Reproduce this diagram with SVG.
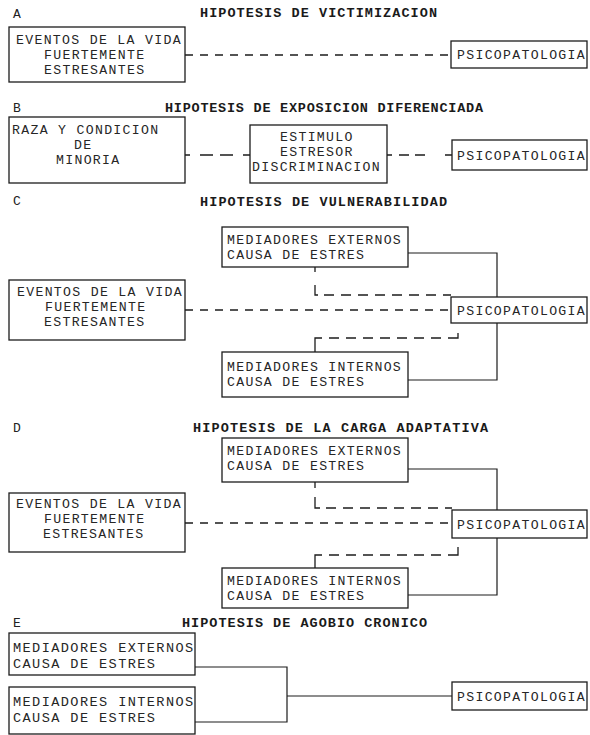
<svg xmlns="http://www.w3.org/2000/svg" width="590" height="735" viewBox="0 0 590 735">
<style>
.box{fill:none;stroke:#1c1c1c;stroke-width:1.3}
.t{font-family:"Liberation Mono","Courier New",monospace;font-size:13.2px;letter-spacing:1.3px;fill:#262626}
.te{font-family:"Liberation Mono","Courier New",monospace;font-size:13.6px;letter-spacing:1.4px;fill:#262626}
.h{font-family:"Liberation Mono","Courier New",monospace;font-size:13.5px;font-weight:bold;fill:#1a1a1a}
.lbl{font-family:"Liberation Mono","Courier New",monospace;font-size:13px;fill:#222}
.solid{fill:none;stroke:#1c1c1c;stroke-width:1.2}
.dash{fill:none;stroke:#1c1c1c;stroke-width:1.3;stroke-dasharray:8 7}
.dash2{fill:none;stroke:#1c1c1c;stroke-width:1.3}
</style>
<rect width="590" height="735" fill="#fff"/>

<g id="titles">
<text class="lbl" x="13" y="18">A</text>
<text class="h" x="200" y="17" textLength="237">HIPOTESIS DE VICTIMIZACION</text>
<text class="lbl" x="13" y="112">B</text>
<text class="h" x="165" y="112" textLength="318">HIPOTESIS DE EXPOSICION DIFERENCIADA</text>
<text class="lbl" x="13" y="205">C</text>
<text class="h" x="200" y="206" textLength="247">HIPOTESIS DE VULNERABILIDAD</text>
<text class="lbl" x="13" y="432">D</text>
<text class="h" x="193" y="432" textLength="295">HIPOTESIS DE LA CARGA ADAPTATIVA</text>
<text class="lbl" x="13" y="627">E</text>
<text class="h" x="182" y="627" textLength="245">HIPOTESIS DE AGOBIO CRONICO</text>
</g>

<g id="connectors">
<path class="dash" d="M185,55 H451"/>
<path class="dash2" d="M185,155 H250" stroke-dasharray="5 10 13 7 13 10 7"/>
<path class="dash2" d="M387,155 H452" stroke-dasharray="5 7 10 6 10 20 7"/>
<path class="solid" d="M408,253 H497 V297"/>
<path class="solid" d="M408,380 H497 V323"/>
<path class="dash" d="M185,310 H451"/>
<path class="dash2" d="M315,267 V295 H451" stroke-dasharray="5 13 13 6 10 7 10 7 10 7 10 7 10 7 10 7 10 7 10 7 10 7"/>
<path class="dash2" d="M315,352 V338 H458 V333" stroke-dasharray="21 7 10 7 10 7 10 7 10 7 10 7 10 7 10 7 15 5"/>
<path class="solid" d="M408,469 H497 V510"/>
<path class="solid" d="M408,595 H497 V538"/>
<path class="dash" d="M185,523 H452"/>
<path class="dash2" d="M315,482 V508 H452" stroke-dasharray="6 9 16 6 10 7 10 7 10 7 10 7 10 7 10 7 10 7 10 7 10 7"/>
<path class="dash2" d="M315,568 V555 H458 V547" stroke-dasharray="20 7 10 7 10 7 10 7 10 7 10 7 10 7 10 7 18 4"/>
<path class="solid" d="M195,667 H287 V722 H195"/>
<path class="solid" d="M287,696 H452"/>
</g>

<g id="a-eventos">
<rect class="box" x="9" y="27" width="176" height="55"/>
<text class="t" x="16" y="44">EVENTOS DE LA VIDA</text>
<text class="t" x="44" y="59">FUERTEMENTE</text>
<text class="t" x="44" y="74">ESTRESANTES</text>
</g>
<g id="a-psico">
<rect class="box" x="451" y="41" width="136" height="27"/>
<text class="t" x="457" y="59">PSICOPATOLOGIA</text>
</g>

<g id="b-raza">
<rect class="box" x="9" y="117" width="176" height="66"/>
<text class="t" x="12" y="134">RAZA Y CONDICION</text>
<text class="t" x="74" y="149">DE</text>
<text class="t" x="56" y="164">MINORIA</text>
</g>
<g id="b-estimulo">
<rect class="box" x="250" y="125" width="137" height="58"/>
<text class="t" x="280" y="141">ESTIMULO</text>
<text class="t" x="280" y="156">ESTRESOR</text>
<text class="t" x="252" y="171">DISCRIMINACION</text>
</g>
<g id="b-psico">
<rect class="box" x="452" y="140" width="135" height="30"/>
<text class="t" x="457" y="160">PSICOPATOLOGIA</text>
</g>

<g id="c-externos">
<rect class="box" x="222" y="227" width="186" height="40"/>
<text class="t" x="227" y="244">MEDIADORES EXTERNOS</text>
<text class="t" x="227" y="259">CAUSA DE ESTRES</text>
</g>
<g id="c-eventos">
<rect class="box" x="9" y="280" width="176" height="60"/>
<text class="t" x="17" y="296">EVENTOS DE LA VIDA</text>
<text class="t" x="45" y="311">FUERTEMENTE</text>
<text class="t" x="44" y="326">ESTRESANTES</text>
</g>
<g id="c-psico">
<rect class="box" x="451" y="297" width="136" height="26"/>
<text class="t" x="457" y="315">PSICOPATOLOGIA</text>
</g>
<g id="c-internos">
<rect class="box" x="222" y="352" width="186" height="45"/>
<text class="t" x="227" y="371">MEDIADORES INTERNOS</text>
<text class="t" x="227" y="386">CAUSA DE ESTRES</text>
</g>

<g id="d-externos">
<rect class="box" x="222" y="438" width="186" height="44"/>
<text class="t" x="227" y="455">MEDIADORES EXTERNOS</text>
<text class="t" x="227" y="470">CAUSA DE ESTRES</text>
</g>
<g id="d-eventos">
<rect class="box" x="9" y="493" width="176" height="59"/>
<text class="t" x="16" y="508">EVENTOS DE LA VIDA</text>
<text class="t" x="44" y="523">FUERTEMENTE</text>
<text class="t" x="43" y="538">ESTRESANTES</text>
</g>
<g id="d-psico">
<rect class="box" x="452" y="510" width="135" height="28"/>
<text class="t" x="457" y="529">PSICOPATOLOGIA</text>
</g>
<g id="d-internos">
<rect class="box" x="222" y="568" width="186" height="40"/>
<text class="t" x="227" y="585">MEDIADORES INTERNOS</text>
<text class="t" x="227" y="600">CAUSA DE ESTRES</text>
</g>

<g id="e-externos">
<rect class="box" x="9" y="633" width="186" height="42"/>
<text class="te" x="13" y="652">MEDIADORES EXTERNOS</text>
<text class="te" x="13" y="668">CAUSA DE ESTRES</text>
</g>
<g id="e-internos">
<rect class="box" x="9" y="687" width="186" height="47"/>
<text class="te" x="13" y="706">MEDIADORES INTERNOS</text>
<text class="te" x="13" y="722">CAUSA DE ESTRES</text>
</g>
<g id="e-psico">
<rect class="box" x="452" y="682" width="135" height="28"/>
<text class="t" x="457" y="701">PSICOPATOLOGIA</text>
</g>
</svg>
